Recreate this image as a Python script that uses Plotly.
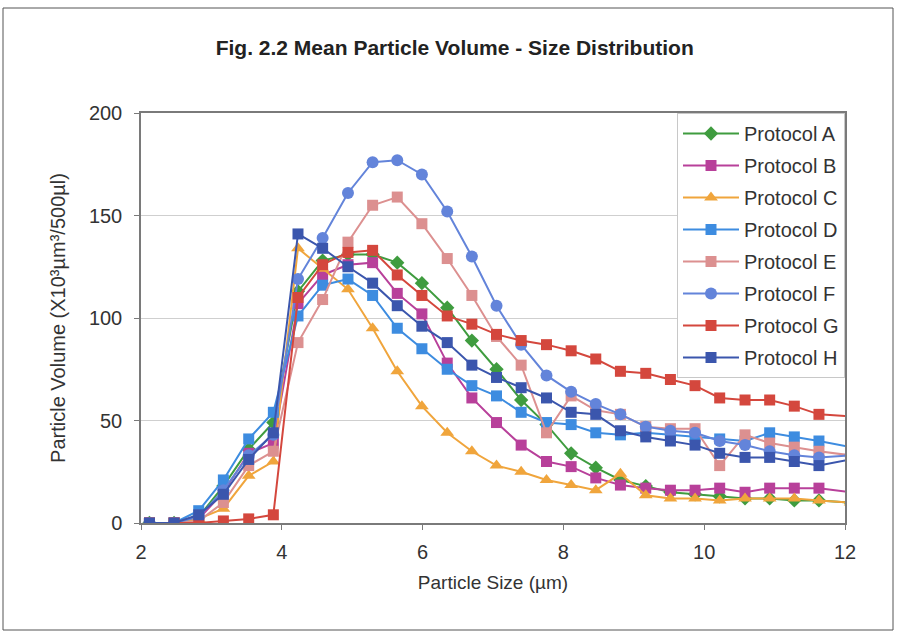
import plotly.graph_objects as go

# Particle size bins (µm); the last bin sits just past the 12 µm axis limit
sizes = [2.12, 2.47, 2.82, 3.17, 3.53, 3.88, 4.23, 4.58, 4.94, 5.29,
         5.64, 5.99, 6.35, 6.70, 7.05, 7.40, 7.76, 8.11, 8.46, 8.81,
         9.17, 9.52, 9.87, 10.22, 10.58, 10.93, 11.28, 11.63, 12.08]

# Mean particle volume (x10^3 µm^3 / 500 µl) per protocol
protocol_a = [0, 0, 3, 18, 36, 49, 113, 128, 131, 131, 127, 117, 105, 89, 75,
              60, 48, 34, 27, 21, 18, 15, 14, 13, 12, 12, 11, 11, 10]
protocol_b = [0, 0, 2, 15, 34, 39, 107, 121, 126, 127, 112, 102, 78, 61, 49,
              38, 30, 27.5, 22, 18.5, 17, 16, 16, 17, 15, 17, 17, 17, 15]
protocol_c = [0, 0, 2, 7, 23, 30, 134, 124, 114, 95, 74, 57, 44, 35, 28,
              25, 21, 18.5, 16, 24, 13.5, 12, 12, 11, 12, 12, 12, 11, 10]
protocol_d = [0, 0, 6, 21, 41, 54, 101, 116, 119, 111, 95, 85, 75, 67, 62,
              54, 49, 48, 44, 43, 44, 43, 42, 41, 40, 44, 42, 40, 37]
protocol_e = [0, 0, 1, 10, 28, 35, 88, 109, 137, 155, 159, 146, 129, 111, 91,
              77, 44, 62, 55, 53, 47, 46, 46, 28, 43, 39, 37, 35, 33]
protocol_f = [0, 0, 3, 16, 33, 43, 119, 139, 161, 176, 177, 170, 152, 130, 106,
              87, 72, 64, 58, 53, 47, 45, 44, 40, 38, 35, 33, 32, 33]
protocol_g = [0, 0, 0, 1, 2, 4, 110, 126, 132, 133, 121, 111, 101, 97, 92,
              89, 87, 84, 80, 74, 73, 70, 67, 61, 60, 60, 57, 53, 52]
protocol_h = [0, 0, 4, 14, 31, 44, 141, 134, 125, 117, 106, 96, 88, 77, 71,
              66, 61, 54, 53, 45, 42, 40, 38, 34, 32, 32, 30, 28, 31]

names = ["Protocol A", "Protocol B", "Protocol C", "Protocol D",
         "Protocol E", "Protocol F", "Protocol G", "Protocol H"]
series = [protocol_a, protocol_b, protocol_c, protocol_d,
          protocol_e, protocol_f, protocol_g, protocol_h]
colors = ["#3f9c3f", "#b8409a", "#f0a53c", "#3d8ce0",
          "#dc9090", "#6384da", "#d4473d", "#3b56ad"]
symbols = ["diamond", "square", "triangle-up", "square",
           "square", "circle", "square", "square"]
msizes = [11, 11, 12, 11, 11, 12, 11, 11]

FONT = "Liberation Sans, Arial, sans-serif"

fig = go.Figure()
for i, (name, vals) in enumerate(zip(names, series)):
    fig.add_trace(go.Scatter(
        x=sizes, y=vals, name=name, mode="lines+markers",
        legendgroup=name,
        line=dict(color=colors[i], width=2),
        marker=dict(symbol=symbols[i], size=msizes[i], color=colors[i],
                    line=dict(width=0)),
    ))

fig.update_layout(
    width=904, height=636,
    margin=dict(l=141, r=59, t=113, b=113),
    paper_bgcolor="white", plot_bgcolor="white",
    font=dict(family=FONT, size=19, color="#333333"),
    title=dict(text="<b>Fig. 2.2 Mean Particle Volume - Size Distribution</b>",
               x=0.503, xanchor="center", y=0.925, yanchor="middle",
               font=dict(family=FONT, size=21, color="#222222")),
    showlegend=True,
    legend=dict(x=1.0, xanchor="right", y=1.0, yanchor="top",
                bgcolor="white", bordercolor="#c8c8c8", borderwidth=1,
                font=dict(family=FONT, size=20, color="#333333"),
                tracegroupgap=3, traceorder="grouped",
                itemwidth=56),
    xaxis=dict(range=[2, 12], tickvals=[2, 4, 6, 8, 10, 12],
               showgrid=False, zeroline=False,
               showline=True, linecolor="#7a7a7a", linewidth=1.5, mirror=True,
               ticks="outside", ticklen=5, tickcolor="#7a7a7a",
               ticklabelstandoff=5,
               tickfont=dict(size=20, color="#333333"),
               title=dict(text="Particle Size (µm)", standoff=14,
                          font=dict(size=19, color="#333333"))),
    yaxis=dict(range=[0, 200], tickvals=[0, 50, 100, 150, 200],
               showgrid=True, gridcolor="#cfcfcf", gridwidth=1,
               zeroline=False,
               showline=True, linecolor="#7a7a7a", linewidth=1.5, mirror=True,
               ticks="outside", ticklen=5, tickcolor="#7a7a7a",
               ticklabelstandoff=8,
               tickfont=dict(size=20, color="#333333"),
               title=dict(text="Particle Volume (X10³µm³/500µl)", standoff=18,
                          font=dict(size=20, color="#333333"))),
)

# Outer frame around the whole chart area
fig.add_shape(type="rect", xref="paper", yref="paper",
              x0=(3 - 141) / 704, x1=(893 - 141) / 704,
              y0=(523 - 630) / 410, y1=(523 - 8) / 410,
              line=dict(color="#555555", width=1), layer="below")

fig.write_html("out.html")
